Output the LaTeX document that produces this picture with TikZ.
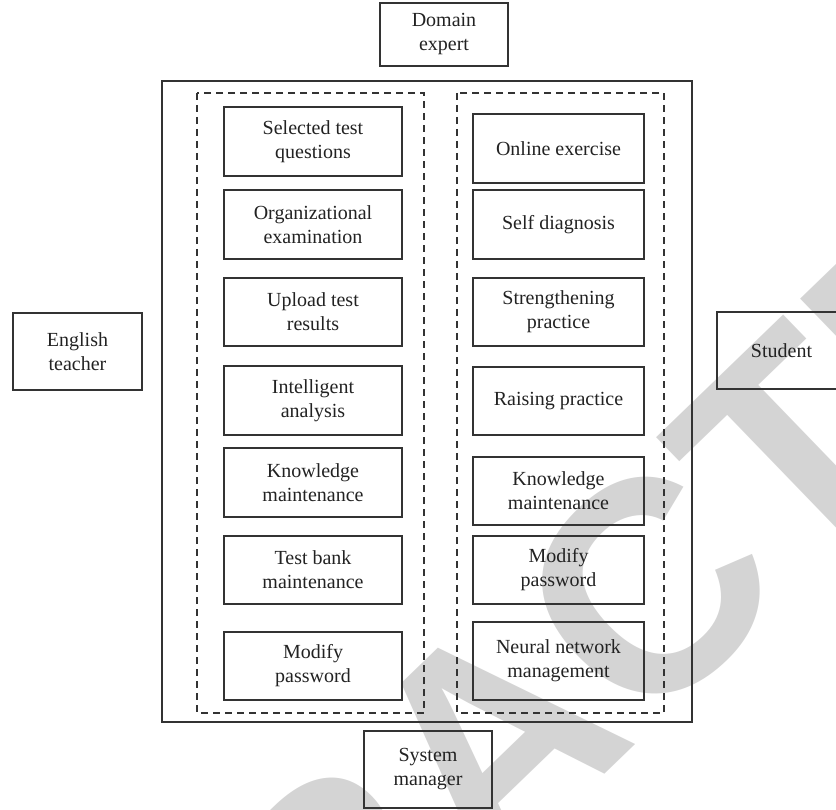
\documentclass[tikz,border=0pt]{standalone}
\usepackage{fontspec}
\setmainfont{Liberation Serif}
\newfontfamily\wmfont{Liberation Sans}
\definecolor{linec}{HTML}{333333}
\definecolor{txtc}{HTML}{222222}
\definecolor{wmc}{HTML}{D4D4D4}
\begin{document}
\begin{tikzpicture}[x=1pt,y=-1pt,
  box/.style={draw=linec, line width=1.3pt, align=center, inner sep=0pt,
    text=txtc, font=\fontsize{20}{24}\selectfont},
  lbox/.style={box, minimum width=178pt},
  rbox/.style={box, minimum width=171pt},
  actor/.style={box, minimum width=128pt, minimum height=77pt},
  frame/.style={draw=linec, line width=1.3pt},
  group/.style={draw=linec, line width=1.2pt, dash pattern=on 7pt off 5pt},
  wm/.style={text=wmc, inner sep=0pt, font=\wmfont\bfseries\fontsize{300}{300}\selectfont}
]
\useasboundingbox (0,0) rectangle (836,810);
\clip (0,0) rectangle (836,810);
% watermark
\node[wm, rotate=44] (wmark) at (492,740) {RETRACTED};
% frames
\draw[frame] (162,81) rectangle (692,722);
\draw[group] (197,93) rectangle (424,713);
\draw[group] (457,93) rectangle (664,713);
% actors
\node[actor, minimum height=63pt] (domain) at (444,34.5) {Domain\\expert};
\node[actor, minimum width=129pt] (teacher) at (77.5,351.5) {English\\teacher};
\node[actor, minimum width=129pt] (student) at (781.5,350.5) {Student};
\node[actor] (sysman) at (428,769.5) {System\\manager};
% left column
\node[lbox, minimum height=69pt] (l1) at (313,141.5) {Selected test\\questions};
\node[lbox, minimum height=69pt] (l2) at (313,224.5) {Organizational\\examination};
\node[lbox, minimum height=68pt] (l3) at (313,312) {Upload test\\results};
\node[lbox, minimum height=69pt] (l4) at (313,400.5) {Intelligent\\analysis};
\node[lbox, minimum height=69pt] (l5) at (313,482.5) {Knowledge\\maintenance};
\node[lbox, minimum height=68pt] (l6) at (313,570) {Test bank\\maintenance};
\node[lbox, minimum height=68pt] (l7) at (313,666) {Modify\\password};
% right column
\node[rbox, minimum height=69pt] (r1) at (558.5,148.5) {Online exercise};
\node[rbox, minimum height=69pt] (r2) at (558.5,224.5) {Self diagnosis};
\node[rbox, minimum height=68pt] (r3) at (558.5,312) {Strengthening\\practice};
\node[rbox, minimum height=68pt] (r4) at (558.5,401) {Raising practice};
\node[rbox, minimum height=68pt] (r5) at (558.5,491) {Knowledge\\maintenance};
\node[rbox, minimum height=68pt] (r6) at (558.5,570) {Modify\\password};
\node[rbox, minimum height=78pt] (r7) at (558.5,661) {Neural network\\management};
\end{tikzpicture}
\end{document}
